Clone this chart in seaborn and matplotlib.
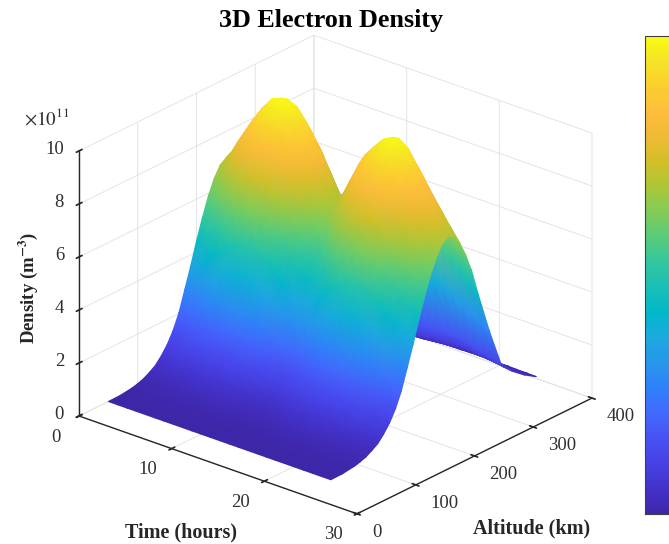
# 3D electron density surface, time vs altitude, parula-like colours
import numpy as np
import matplotlib
matplotlib.use("Agg")
import matplotlib.pyplot as plt
import seaborn as sns
from mpl_toolkits.mplot3d import proj3d

# altitude columns (km)
altitude = [50, 70, 90, 100, 110, 120, 130, 140, 150, 160, 170, 180, 190, 200, 210, 220, 230, 240, 250, 260,
            270, 280, 290, 300, 320, 340, 360, 380, 400]
# time rows (hours)
time_h = list(range(0, 25))

# density per time row, in units of 1e11 m^-3
t00 = [0, .01, .07, .13, .21, .34, .49, .74, 1.05, 1.47, 2.03, 2.80, 3.57, 4.41, 5.18, 5.88, 6.44, 6.83, 7.00, 6.90, 6.51, 5.95, 5.25, 4.34, 2.66, 1.19, .70, .35, .07]
t01 = [0, .02, .08, .14, .23, .36, .53, .79, 1.13, 1.58, 2.18, 3.00, 3.83, 4.73, 5.55, 6.30, 6.90, 7.31, 7.50, 7.39, 6.98, 6.38, 5.63, 4.65, 2.85, 1.28, .75, .38, .08]
t02 = [0, .02, .08, .15, .25, .39, .57, .86, 1.23, 1.72, 2.38, 3.28, 4.18, 5.17, 6.07, 6.89, 7.54, 8.00, 8.20, 8.08, 7.63, 6.97, 6.15, 5.08, 3.12, 1.39, .82, .41, .08]
t03 = [0, .02, .09, .16, .27, .42, .62, .93, 1.33, 1.86, 2.57, 3.54, 4.51, 5.58, 6.55, 7.43, 8.14, 8.63, 8.85, 8.72, 8.23, 7.52, 6.64, 5.49, 3.36, 1.50, .89, .44, .09]
t04 = [0, .02, .09, .17, .28, .45, .66, .99, 1.41, 1.97, 2.73, 3.76, 4.79, 5.92, 6.96, 7.90, 8.65, 9.17, 9.40, 9.26, 8.74, 7.99, 7.05, 5.83, 3.57, 1.60, .94, .47, .09]
t05 = [0, .02, .10, .18, .30, .47, .69, 1.03, 1.48, 2.07, 2.86, 3.94, 5.02, 6.21, 7.29, 8.27, 9.06, 9.60, 9.85, 9.70, 9.16, 8.37, 7.39, 6.11, 3.74, 1.67, .99, .49, .10]
t06 = [0, .02, .10, .18, .30, .48, .70, 1.05, 1.50, 2.10, 2.90, 4.00, 5.10, 6.30, 7.40, 8.40, 9.20, 9.75, 10.0, 9.85, 9.30, 8.50, 7.50, 6.20, 3.80, 1.70, 1.00, .50, .10]
t07 = [0, .02, .10, .18, .30, .47, .69, 1.03, 1.48, 2.07, 2.86, 3.94, 5.02, 6.21, 7.29, 8.27, 9.06, 9.60, 9.85, 9.70, 9.16, 8.37, 7.39, 6.11, 3.74, 1.67, .99, .49, .10]
t08 = [0, .02, .09, .17, .28, .45, .66, .99, 1.41, 1.97, 2.73, 3.76, 4.79, 5.92, 6.96, 7.90, 8.65, 9.17, 9.40, 9.26, 8.74, 7.99, 7.05, 5.83, 3.57, 1.60, .94, .47, .09]
t09 = [0, .02, .09, .16, .26, .42, .62, .92, 1.32, 1.85, 2.55, 3.52, 4.49, 5.54, 6.51, 7.39, 8.10, 8.58, 8.80, 8.67, 8.18, 7.48, 6.60, 5.46, 3.34, 1.50, .88, .44, .09]
t10 = [0, .02, .08, .14, .24, .39, .56, .85, 1.21, 1.69, 2.33, 3.22, 4.11, 5.07, 5.96, 6.76, 7.41, 7.85, 8.05, 7.93, 7.49, 6.84, 6.04, 4.99, 3.06, 1.37, .81, .40, .08]
t11 = [0, .01, .07, .13, .22, .35, .51, .77, 1.10, 1.53, 2.12, 2.92, 3.72, 4.60, 5.40, 6.13, 6.72, 7.12, 7.30, 7.19, 6.79, 6.21, 5.48, 4.53, 2.77, 1.24, .73, .37, .07]
t12 = [0, .01, .07, .13, .21, .33, .49, .73, 1.04, 1.46, 2.02, 2.78, 3.54, 4.38, 5.14, 5.84, 6.39, 6.78, 6.95, 6.85, 6.46, 5.91, 5.21, 4.31, 2.64, 1.18, .70, .35, .07]
t13 = [0, .01, .07, .13, .22, .35, .51, .77, 1.10, 1.54, 2.13, 2.94, 3.75, 4.63, 5.44, 6.17, 6.76, 7.17, 7.35, 7.24, 6.84, 6.25, 5.51, 4.56, 2.79, 1.25, .74, .37, .07]
t14 = [0, .02, .08, .15, .24, .39, .57, .86, 1.22, 1.71, 2.36, 3.26, 4.16, 5.13, 6.03, 6.85, 7.50, 7.95, 8.15, 8.03, 7.58, 6.93, 6.11, 5.05, 3.10, 1.39, .82, .41, .08]
t15 = [0, .02, .09, .16, .27, .43, .63, .94, 1.34, 1.88, 2.60, 3.58, 4.56, 5.64, 6.62, 7.52, 8.23, 8.73, 8.95, 8.82, 8.32, 7.61, 6.71, 5.55, 3.40, 1.52, .90, .45, .09]
t16 = [0, .02, .09, .17, .28, .45, .66, .99, 1.41, 1.97, 2.73, 3.76, 4.79, 5.92, 6.96, 7.90, 8.65, 9.17, 9.40, 9.26, 8.74, 7.99, 7.05, 5.83, 3.57, 1.60, .94, .47, .09]
t17 = [0, .02, .10, .18, .29, .47, .69, 1.03, 1.47, 2.06, 2.84, 3.92, 5.00, 6.17, 7.25, 8.23, 9.02, 9.56, 9.80, 9.65, 9.11, 8.33, 7.35, 6.08, 3.72, 1.67, .98, .49, .10]
t18 = [0, .02, .10, .18, .30, .48, .70, 1.05, 1.50, 2.10, 2.90, 4.00, 5.10, 6.30, 7.40, 8.40, 9.20, 9.75, 10.0, 9.85, 9.30, 8.50, 7.50, 6.20, 3.80, 1.70, 1.00, .50, .10]
t19 = [0, .02, .10, .18, .29, .47, .68, 1.02, 1.46, 2.05, 2.83, 3.90, 4.97, 6.14, 7.22, 8.19, 8.97, 9.51, 9.75, 9.60, 9.07, 8.29, 7.31, 6.05, 3.71, 1.66, .98, .49, .10]
t20 = [0, .02, .09, .17, .28, .44, .64, .97, 1.38, 1.93, 2.67, 3.68, 4.69, 5.80, 6.81, 7.73, 8.46, 8.97, 9.20, 9.06, 8.56, 7.82, 6.90, 5.70, 3.50, 1.56, .92, .46, .09]
t21 = [0, .02, .09, .15, .26, .41, .60, .90, 1.29, 1.81, 2.49, 3.44, 4.39, 5.42, 6.36, 7.22, 7.91, 8.39, 8.60, 8.47, 8.00, 7.31, 6.45, 5.33, 3.27, 1.46, .86, .43, .09]
t22 = [0, .02, .08, .14, .24, .39, .56, .85, 1.21, 1.69, 2.33, 3.22, 4.11, 5.07, 5.96, 6.76, 7.41, 7.85, 8.05, 7.93, 7.49, 6.84, 6.04, 4.99, 3.06, 1.37, .81, .40, .08]
t23 = [0, .02, .08, .14, .23, .36, .53, .79, 1.13, 1.58, 2.18, 3.00, 3.83, 4.73, 5.55, 6.30, 6.90, 7.31, 7.50, 7.39, 6.98, 6.38, 5.63, 4.65, 2.85, 1.28, .75, .38, .08]
t24 = [0, .01, .07, .13, .21, .34, .49, .74, 1.05, 1.47, 2.03, 2.80, 3.57, 4.41, 5.18, 5.88, 6.44, 6.83, 7.00, 6.90, 6.51, 5.95, 5.25, 4.34, 2.66, 1.19, .70, .35, .07]
density = np.array([t00, t01, t02, t03, t04, t05, t06, t07, t08, t09, t10, t11, t12,
                    t13, t14, t15, t16, t17, t18, t19, t20, t21, t22, t23, t24])

time_ticks = [0, 10, 20, 30]
alt_ticks = [0, 100, 200, 300, 400]
dens_ticks = [0, 2, 4, 6, 8, 10]

parula = [(0.2422, 0.1504, 0.6603), (0.2647, 0.1978, 0.7952), (0.2783, 0.2559, 0.8991), (0.2810, 0.3228, 0.9579),
          (0.2602, 0.4123, 0.9952), (0.1834, 0.5074, 0.9798), (0.1540, 0.5902, 0.9218), (0.1113, 0.6635, 0.8763),
          (0.0036, 0.7203, 0.7917), (0.0964, 0.7500, 0.7120), (0.1938, 0.7758, 0.6251), (0.3406, 0.8008, 0.4789),
          (0.5044, 0.7993, 0.3480), (0.6720, 0.7793, 0.2227), (0.8203, 0.7498, 0.1535), (0.9393, 0.7288, 0.2100),
          (0.9956, 0.7434, 0.2371), (0.9892, 0.8073, 0.1795), (0.9610, 0.8890, 0.1537), (0.9769, 0.9839, 0.0805)]

sns.set_theme(style="white")
plt.rcParams['font.family'] = ['Liberation Serif', 'DejaVu Serif']
plt.rcParams['mathtext.fontset'] = 'stix'
plt.rcParams['grid.color'] = '#e4e4e4'
plt.rcParams['grid.linewidth'] = 0.7
cmap = sns.blend_palette(parula, n_colors=256, as_cmap=True)

W, H = 669, 544
fig = plt.figure(figsize=(W / 100, H / 100), dpi=100)
ax = fig.add_axes([0, 0, 500 / W, 500 / H], projection='3d')
ax.set_proj_type('ortho')
ax.view_init(elev=24.6, azim=-49.8)
ax.set_box_aspect((364, 364, 291.5))
ax.patch.set_alpha(0)

ax.set_xlim(0, 30)
ax.set_ylim(0, 400)
ax.set_zlim(0, 10)
ax.set_xticks(time_ticks)
ax.set_yticks(alt_ticks)
ax.set_zticks(dens_ticks)
ax.set_xticklabels([])
ax.set_yticklabels([])
ax.set_zticklabels([])
ax.zaxis.set_ticks_position('lower')
for axis in (ax.xaxis, ax.yaxis, ax.zaxis):
    axis.set_pane_color((1, 1, 1, 0))
    axis.pane.set_edgecolor('#e4e4e4')
    axis.line.set_color('#262626')
    axis.line.set_linewidth(1.0)
    axis._axinfo['tick']['inward_factor'] = 0.14
    axis._axinfo['tick']['outward_factor'] = 0.16
    axis._axinfo['tick']['color'] = '#262626'


def to_px(x, y, z):
    x, y, z = np.ravel(x), np.ravel(y), np.ravel(z)
    vx, vy, _ = proj3d.proj_transform(x, y, z, ax.get_proj())
    return ax.transData.transform(np.column_stack([vx, vy]))


# move the box so its floor corners land where the reference has them
fig.canvas.draw()
left = to_px(0, 0, 0)[0]
right = to_px(30, 400, 0)[0]
size = 500 * 513 / (right[0] - left[0])
ax.set_position([0, 0, size / W, size / H])
ax.apply_aspect()
fig.canvas.draw()
left = to_px(0, 0, 0)[0]
ax.set_position([(79 - left[0]) / W, (H - 416 - left[1]) / H, size / W, size / H])
ax.apply_aspect()

# same pixel space on top of the 3D box; gouraud mesh gives the smooth colour ramp
over = fig.add_axes([0, 0, 1, 1], zorder=2)
T, A = np.meshgrid(time_h, altitude, indexing='ij')
xy = to_px(T, A, density)
px = xy[:, 0].reshape(T.shape)
py = xy[:, 1].reshape(T.shape)
# back to front: time rising, altitude falling
over.pcolormesh(px[:, ::-1], py[:, ::-1], density[:, ::-1], shading='gouraud', cmap=cmap, vmin=0, vmax=10)
over.set_xlim(0, W)
over.set_ylim(0, H)
over.set_axis_off()

tick_font = dict(fontsize=13.5, color='#303030', va='center')
for v in time_ticks:
    p = to_px(v, 0, 0)[0]
    over.text(p[0] - 23.5, p[1] - 21, str(v), ha='center', **tick_font)
for v in alt_ticks:
    p = to_px(30, v, 0)[0]
    over.text(p[0] + 15, p[1] - 18.5, str(v), ha='left', **tick_font)
for v in dens_ticks:
    p = to_px(0, 0, v)[0]
    over.text(p[0] - 15, p[1] + 1.5, str(v), ha='right', **tick_font)

label_font = dict(fontweight='bold', color='#262626', fontsize=14.5)
fig.text(331 / W, 1 - 21 / H, '3D Electron Density', ha='center', va='center', fontsize=18.8, fontweight='bold', color='black')
fig.text(181 / W, 1 - 532 / H, 'Time (hours)', ha='center', va='center', **label_font)
fig.text(532 / W, 1 - 528 / H, 'Altitude (km)', ha='center', va='center', **label_font)
fig.text(28 / W, 1 - 288 / H, r'Density (m$^{\mathbf{-3}}$)', rotation=90, ha='center', va='center',
         fontweight='bold', color='#262626', fontsize=13.5)
fig.text(47 / W, 1 - 118 / H, r'$\times 10^{11}$', ha='center', va='center', fontsize=13.8, color='#303030')

cax = fig.add_axes([645 / W, 1 - 514 / H, 40 / W, 478 / H])
sm = plt.cm.ScalarMappable(cmap=cmap, norm=plt.Normalize(0, 10))
cbar = fig.colorbar(sm, cax=cax, ticks=[])
cbar.outline.set_edgecolor('#404040')
cbar.outline.set_linewidth(0.8)

fig.savefig('out.png', dpi=100)
